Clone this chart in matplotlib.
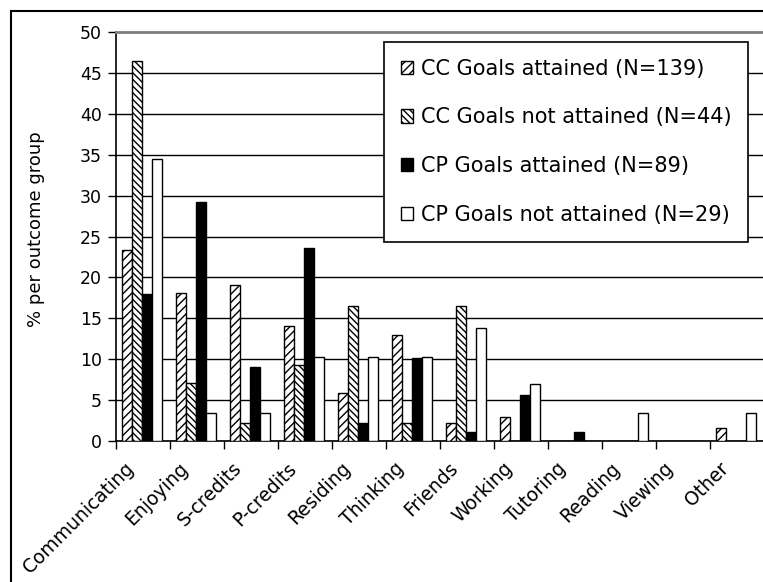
import matplotlib
matplotlib.use("Agg")
import matplotlib.pyplot as plt
from matplotlib.lines import Line2D
from matplotlib.transforms import ScaledTranslation
import numpy as np

categories = ["Communicating", "Enjoying", "S-credits", "P-credits", "Residing",
              "Thinking", "Friends", "Working", "Tutoring", "Reading", "Viewing", "Other"]

cc_attained = [23.3, 18.1, 19.1, 14.0, 5.9, 13.0, 2.2, 2.9, 0, 0, 0, 1.5]
cc_not_attained = [46.5, 7.1, 2.2, 9.3, 16.5, 2.2, 16.5, 0, 0, 0, 0, 0]
cp_attained = [18.0, 29.2, 9.0, 23.6, 2.2, 10.1, 1.1, 5.6, 1.1, 0, 0, 0]
cp_not_attained = [34.5, 3.4, 3.4, 10.3, 10.3, 10.3, 13.8, 6.9, 0, 3.4, 0, 3.4]

series_labels = ["CC Goals attained (N=139)", "CC Goals not attained (N=44)",
                 "CP Goals attained (N=89)", "CP Goals not attained (N=29)"]

yticks = list(range(0, 55, 5))

plt.rcParams['font.family'] = ['DejaVu Sans']
plt.rcParams['hatch.linewidth'] = 1.0

W, H = 763, 582
fig = plt.figure(figsize=(W / 100, H / 100), dpi=100)
# plot area (right edge runs past the picture, as in the reference)
ax = fig.add_axes([116 / W, 1 - 440.7 / H, 648 / W, 408.4 / H])

x = np.arange(len(categories))
w = 10 / 54
pad = 5.7 / 54

styles = [
    dict(facecolor="white", hatch="////"),
    dict(facecolor="white", hatch="\\\\\\\\\\"),
    dict(facecolor="black"),
    dict(facecolor="white"),
]
data = [cc_attained, cc_not_attained, cp_attained, cp_not_attained]

for j, (vals, st, lab) in enumerate(zip(data, styles, series_labels)):
    pos = x - 0.5 + pad + w * (j + 0.5)
    ax.bar(pos, vals, width=w, edgecolor="black", linewidth=1.0, label=lab,
           zorder=3, **st)

ax.set_xlim(-0.5, len(categories) - 0.5)
ax.set_ylim(0, 50)
ax.set_yticks(yticks)
ax.tick_params(axis="y", direction="out", length=6, width=1, labelsize=12.5, pad=4)

# boundary ticks (major, no label) and labels at centres (minor, no mark)
ax.set_xticks(np.arange(len(categories)) - 0.5)
ax.set_xticklabels([])
ax.set_xticks(x, minor=True)
ax.set_xticklabels(categories, minor=True, rotation=45, ha="right", fontsize=13.5)
ax.tick_params(axis="x", which="major", direction="out", length=6, width=1)
ax.tick_params(axis="x", which="minor", length=0, pad=13)
shift = ScaledTranslation(-5 / 100, 0, fig.dpi_scale_trans)
for lbl in ax.get_xticklabels(minor=True):
    lbl.set_transform(lbl.get_transform() + shift)

ax.yaxis.grid(True, color="black", linewidth=1)
ax.set_axisbelow(True)
ax.spines["top"].set_color("#808080")
ax.spines["top"].set_linewidth(2)
ax.spines["right"].set_color("#808080")
ax.spines["left"].set_linewidth(1.2)
ax.spines["bottom"].set_linewidth(1.2)

ax.set_ylabel("% per outcome group", fontsize=13)
ax.yaxis.set_label_coords(-0.11, 0.517)

leg = ax.legend(loc="upper right", bbox_to_anchor=(748 / W, 1 - 42 / H),
                bbox_transform=fig.transFigure, fontsize=15, frameon=True,
                fancybox=False, framealpha=1, edgecolor="black",
                handlelength=0.6, handleheight=0.6, handletextpad=0.35,
                labelspacing=1.38, borderpad=0.8, borderaxespad=0)
leg.get_frame().set_linewidth(1.2)
leg.set_zorder(5)

# outer chart frame (cut off on the right and bottom)
fig.add_artist(Line2D([11 / W, 1.01], [1 - 11 / H, 1 - 11 / H], color="black",
                      linewidth=1.5, transform=fig.transFigure))
fig.add_artist(Line2D([11 / W, 11 / W], [1 - 11 / H, -0.01], color="black",
                      linewidth=1.5, transform=fig.transFigure))

fig.savefig("out.png", dpi=100)
